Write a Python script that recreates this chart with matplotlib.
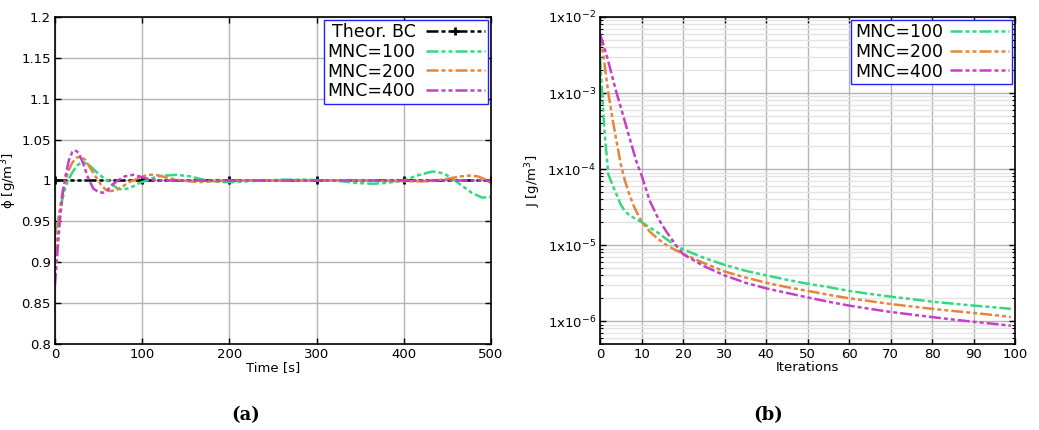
import numpy as np
import matplotlib

matplotlib.use("Agg")
import matplotlib.pyplot as plt
from matplotlib.ticker import LogLocator, FixedLocator, NullFormatter

# ---- (a) phi vs time ----
t_bc = [0, 100, 200, 300, 400, 500]
phi_bc = [1, 1, 1, 1, 1, 1]

t_100 = [0, 4, 8, 12, 15, 20, 25, 30, 33, 38, 44, 50, 56, 61, 67, 72, 77, 83, 90, 97,
         105, 115, 125, 140, 155, 170, 180, 195, 205, 220, 240, 260, 290, 310, 330,
         345, 365, 380, 400, 415, 433, 445, 455, 465, 478, 490, 500]
phi_100 = [0.934, 0.955, 0.975, 0.992, 1.0, 1.01, 1.018, 1.022, 1.022, 1.02, 1.014,
           1.008, 1.003, 1.0, 0.994, 0.99, 0.989, 0.99, 0.993, 0.997, 1.0, 1.004,
           1.006, 1.007, 1.005, 1.001, 0.999, 0.998, 0.998, 0.999, 1.0, 1.001, 1.001,
           1.0, 0.999, 0.997, 0.996, 0.997, 1.0, 1.006, 1.011, 1.009, 1.003, 0.995,
           0.985, 0.979, 0.98]

t_200 = [0, 3, 6, 9, 12, 16, 20, 25, 30, 35, 40, 46, 52, 58, 63, 70, 78, 85, 92, 100,
         108, 113, 120, 130, 145, 165, 185, 200, 250, 300, 350, 400, 430, 450, 465,
         475, 485, 492, 500]
phi_200 = [0.907, 0.94, 0.968, 0.988, 1.0, 1.013, 1.022, 1.028, 1.029, 1.025, 1.016,
           1.006, 0.996, 0.989, 0.987, 0.988, 0.993, 0.998, 1.001, 1.005, 1.007, 1.007,
           1.006, 1.003, 1.0, 0.998, 0.999, 1.0, 1.0, 1.0, 1.0, 0.999, 0.999, 1.002,
           1.005, 1.006, 1.005, 1.002, 0.997]

t_400 = [0, 3, 6, 9, 12, 16, 20, 23, 27, 32, 38, 44, 50, 55, 60, 66, 72, 80, 90, 100,
         110, 120, 140, 170, 200, 250, 300, 350, 400, 450, 500]
phi_400 = [0.872, 0.915, 0.955, 0.985, 1.005, 1.025, 1.035, 1.037, 1.034, 1.022, 1.003,
           0.99, 0.986, 0.985, 0.988, 0.995, 1.0, 1.005, 1.007, 1.004, 1.001, 1.0, 1.0,
           1.0, 1.0, 1.0, 1.0, 1.0, 1.0, 1.0, 1.0]

# ---- (b) J vs iterations ----
it = [0, 1, 2, 3, 4, 5, 6, 7, 8, 9, 10, 12, 14, 16, 18, 20, 25, 30, 35, 40, 45, 50,
      55, 60, 65, 70, 75, 80, 85, 90, 95, 99]
J_100 = [3e-3, 3.5e-4, 8.5e-5, 6.2e-5, 4.6e-5, 3.4e-5, 2.8e-5, 2.5e-5, 2.3e-5,
         2.15e-5, 2.0e-5, 1.7e-5, 1.45e-5, 1.2e-5, 1.0e-5, 8.8e-6, 6.8e-6, 5.5e-6,
         4.6e-6, 4.0e-6, 3.5e-6, 3.1e-6, 2.8e-6, 2.5e-6, 2.28e-6, 2.1e-6, 1.95e-6,
         1.8e-6, 1.7e-6, 1.6e-6, 1.52e-6, 1.45e-6]
J_200 = [6e-3, 2.6e-3, 1.0e-3, 4.6e-4, 2.3e-4, 1.15e-4, 7e-5, 4.8e-5, 3.4e-5, 2.6e-5,
         2.05e-5, 1.5e-5, 1.2e-5, 1.0e-5, 8.7e-6, 7.7e-6, 5.8e-6, 4.5e-6, 3.75e-6,
         3.2e-6, 2.8e-6, 2.5e-6, 2.22e-6, 2.0e-6, 1.83e-6, 1.68e-6, 1.56e-6, 1.45e-6,
         1.36e-6, 1.28e-6, 1.2e-6, 1.13e-6]
J_400 = [6e-3, 4e-3, 2.6e-3, 1.6e-3, 1.0e-3, 6.5e-4, 4.2e-4, 2.7e-4, 1.75e-4, 1.15e-4,
         8.3e-5, 3.8e-5, 2.25e-5, 1.5e-5, 1.05e-5, 7.6e-6, 5.3e-6, 4.0e-6, 3.2e-6,
         2.7e-6, 2.35e-6, 2.05e-6, 1.8e-6, 1.6e-6, 1.45e-6, 1.32e-6, 1.22e-6, 1.13e-6,
         1.05e-6, 0.98e-6, 0.92e-6, 0.87e-6]

cols = {"100": "#33d97f", "200": "#e3863c", "400": "#c63fc6"}
dash = (0, (4.8, 1.2, 1.6, 1.2, 1.6, 1.2))
lw = 1.8

plt.rcParams["font.family"] = "DejaVu Sans"
fig = plt.figure(figsize=(10.39, 4.30), dpi=100)
ax1 = fig.add_axes([0.0529, 0.2, 0.4196, 0.7605])
ax2 = fig.add_axes([0.5775, 0.2, 0.3994, 0.7605])


def style(ax):
    ax.tick_params(direction="in", which="both", top=True, right=True, labelsize=9.5,
                   pad=3)
    ax.tick_params(which="major", length=4, width=1)
    ax.tick_params(which="minor", length=2, width=0.8)
    for s in ax.spines.values():
        s.set_linewidth(1.2)
    ax.set_axisbelow(True)


ax1.plot(t_bc, phi_bc, color="k", ls=dash, lw=lw, marker="+", ms=6, mew=2,
         label="Theor. BC")
ax1.plot(t_100, phi_100, color=cols["100"], ls=dash, lw=lw, label="MNC=100")
ax1.plot(t_200, phi_200, color=cols["200"], ls=dash, lw=lw, label="MNC=200")
ax1.plot(t_400, phi_400, color=cols["400"], ls=dash, lw=lw, label="MNC=400")
ax1.set_xlim(0, 500)
ax1.set_ylim(0.8, 1.2)
ax1.set_xticks(range(0, 501, 100))
ax1.set_yticks([0.8, 0.85, 0.9, 0.95, 1.0, 1.05, 1.1, 1.15, 1.2])
ax1.set_yticklabels(["0.8", "0.85", "0.9", "0.95", "1", "1.05", "1.1", "1.15", "1.2"])
ax1.grid(True, color="#b4b4b4", lw=1)
ax1.set_xlabel("Time [s]", fontsize=9.5, labelpad=0)
ax1.set_ylabel("ϕ [g/m$^3$]", fontsize=9.5)
ax1.yaxis.set_label_coords(-0.083, 0.5)
style(ax1)
leg1 = ax1.legend(loc="upper right", markerfirst=False, fontsize=12.5, handlelength=3.4,
                  labelspacing=0.1, handletextpad=0.6, borderpad=0.2, borderaxespad=0.15,
                  fancybox=False, framealpha=1, edgecolor="#2020ff")
leg1.get_frame().set_linewidth(1)

ax2.plot(it, J_100, color=cols["100"], ls=dash, lw=lw, label="MNC=100")
ax2.plot(it, J_200, color=cols["200"], ls=dash, lw=lw, label="MNC=200")
ax2.plot(it, J_400, color=cols["400"], ls=dash, lw=lw, label="MNC=400")
ax2.set_yscale("log")
ax2.set_xlim(0, 100)
ax2.set_ylim(5e-7, 1e-2)
ax2.set_xticks(range(0, 101, 10))
ax2.yaxis.set_major_locator(FixedLocator([1e-6, 1e-5, 1e-4, 1e-3, 1e-2]))
ax2.set_yticklabels(["1x10$^{-6}$", "1x10$^{-5}$", "1x10$^{-4}$", "1x10$^{-3}$",
                     "1x10$^{-2}$"])
ax2.yaxis.set_minor_locator(LogLocator(base=10, subs=np.arange(2, 10)))
ax2.yaxis.set_minor_formatter(NullFormatter())
ax2.grid(True, which="major", color="#b4b4b4", lw=1)
ax2.grid(True, which="minor", axis="y", color="#e4e4e4", lw=1)
ax2.set_xlabel("Iterations", fontsize=9.5, labelpad=0)
ax2.set_ylabel("J [g/m$^3$]", fontsize=9.5)
ax2.yaxis.set_label_coords(-0.137, 0.5)
style(ax2)
leg2 = ax2.legend(loc="upper right", markerfirst=False, fontsize=12.5, handlelength=3.4,
                  labelspacing=0.1, handletextpad=0.4, borderpad=0.2, borderaxespad=0.15,
                  fancybox=False, framealpha=1, edgecolor="#2020ff")
leg2.get_frame().set_linewidth(1)

fig.text(0.236, 0.035, "(a)", ha="center", va="center", family="DejaVu Serif",
         fontweight="bold", fontsize=13)
fig.text(0.739, 0.035, "(b)", ha="center", va="center", family="DejaVu Serif",
         fontweight="bold", fontsize=13)

fig.savefig("out.png", dpi=100)
